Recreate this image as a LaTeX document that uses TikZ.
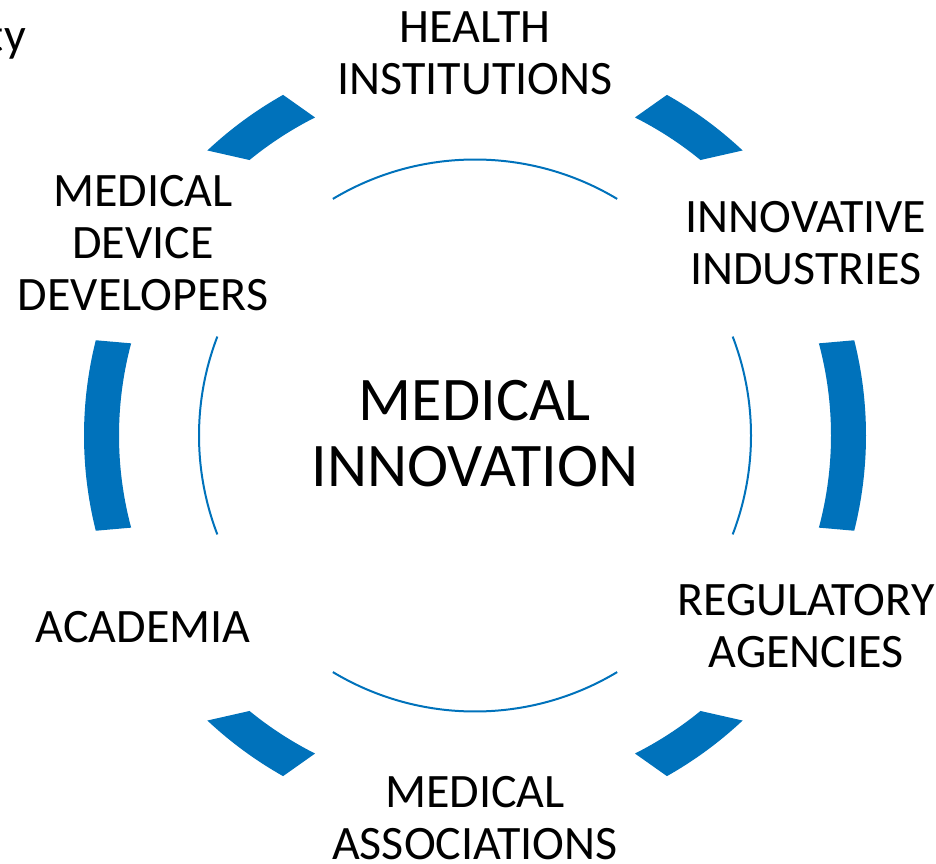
\documentclass[tikz,border=0pt]{standalone}
\usepackage{fontspec}
\setmainfont{Carlito}
\usepackage{tikz}
\usetikzlibrary{
    calc,
    positioning
}
\definecolor{ringblue}{RGB}{0,114,187}
\tikzset{
    % labels around the ring
    partner/.style={
        align=center,
        inner sep=0pt,
        font=\fontsize{48}{52}\selectfont
    },
    % the label in the middle
    hub/.style={
        align=center,
        inner sep=0pt,
        font=\fontsize{62}{66}\selectfont
    },
    % thick outer ring pieces
    band/.style={
        fill=ringblue,
        draw=none
    },
    % thin inner ring pieces
    thinarc/.style={
        draw=ringblue,
        line width=2pt
    }
}

\begin{document}
\begin{tikzpicture}[x=1pt, y=1pt]
    \useasboundingbox (0,0) rectangle (936,863);
    \coordinate (c) at (475,427.5);

    \begin{scope}[shift={(c)}]
        % outer ring: outer arc from \a to \b, inner arc from \p back to \q
        \foreach \a/\b/\p/\q in {
            -14.1/14.1/15/-15,
            46.8/60.6/63.3/50.7,
            119.4/133.2/129.3/116.7,
            165.9/194.1/195/165,
            226.8/240.6/243.3/230.7,
            299.4/313.2/309.3/296.7
        } {
            \fill[band] (\a:391) arc[start angle=\a, end angle=\b, radius=391]
                -- (\p:356) arc[start angle=\p, end angle=\q, radius=356] -- cycle;
        }
        % inner ring: wide pieces top and bottom, short ones at the sides
        \foreach \s/\w in {0/21, 90/31, 180/21, 270/31} {
            \draw[thinarc] (\s-\w:276) arc[start angle=\s-\w, end angle=\s+\w, radius=276];
        }
    \end{scope}

    \node[hub] (innovation) at (475,429.5) {MEDICAL\\INNOVATION};

    \node[partner] (health)     at (475,809.5) {HEALTH\\INSTITUTIONS};
    \node[partner] (industries) at (806,620)   {INNOVATIVE\\INDUSTRIES};
    \node[partner] (agencies)   at (806,237)   {REGULATORY\\AGENCIES};
    \node[partner] (assoc)      at (475,45)    {MEDICAL\\ASSOCIATIONS};
    \node[partner] (academia)   at (143,236)   {ACADEMIA};
    \node[partner] (devices)    at (143,620)   {MEDICAL\\DEVICE\\DEVELOPERS};

    % end of a word cut off at the page edge
    \node[partner, anchor=base east] (cut) at (26,811) {ty};
\end{tikzpicture}
\end{document}
